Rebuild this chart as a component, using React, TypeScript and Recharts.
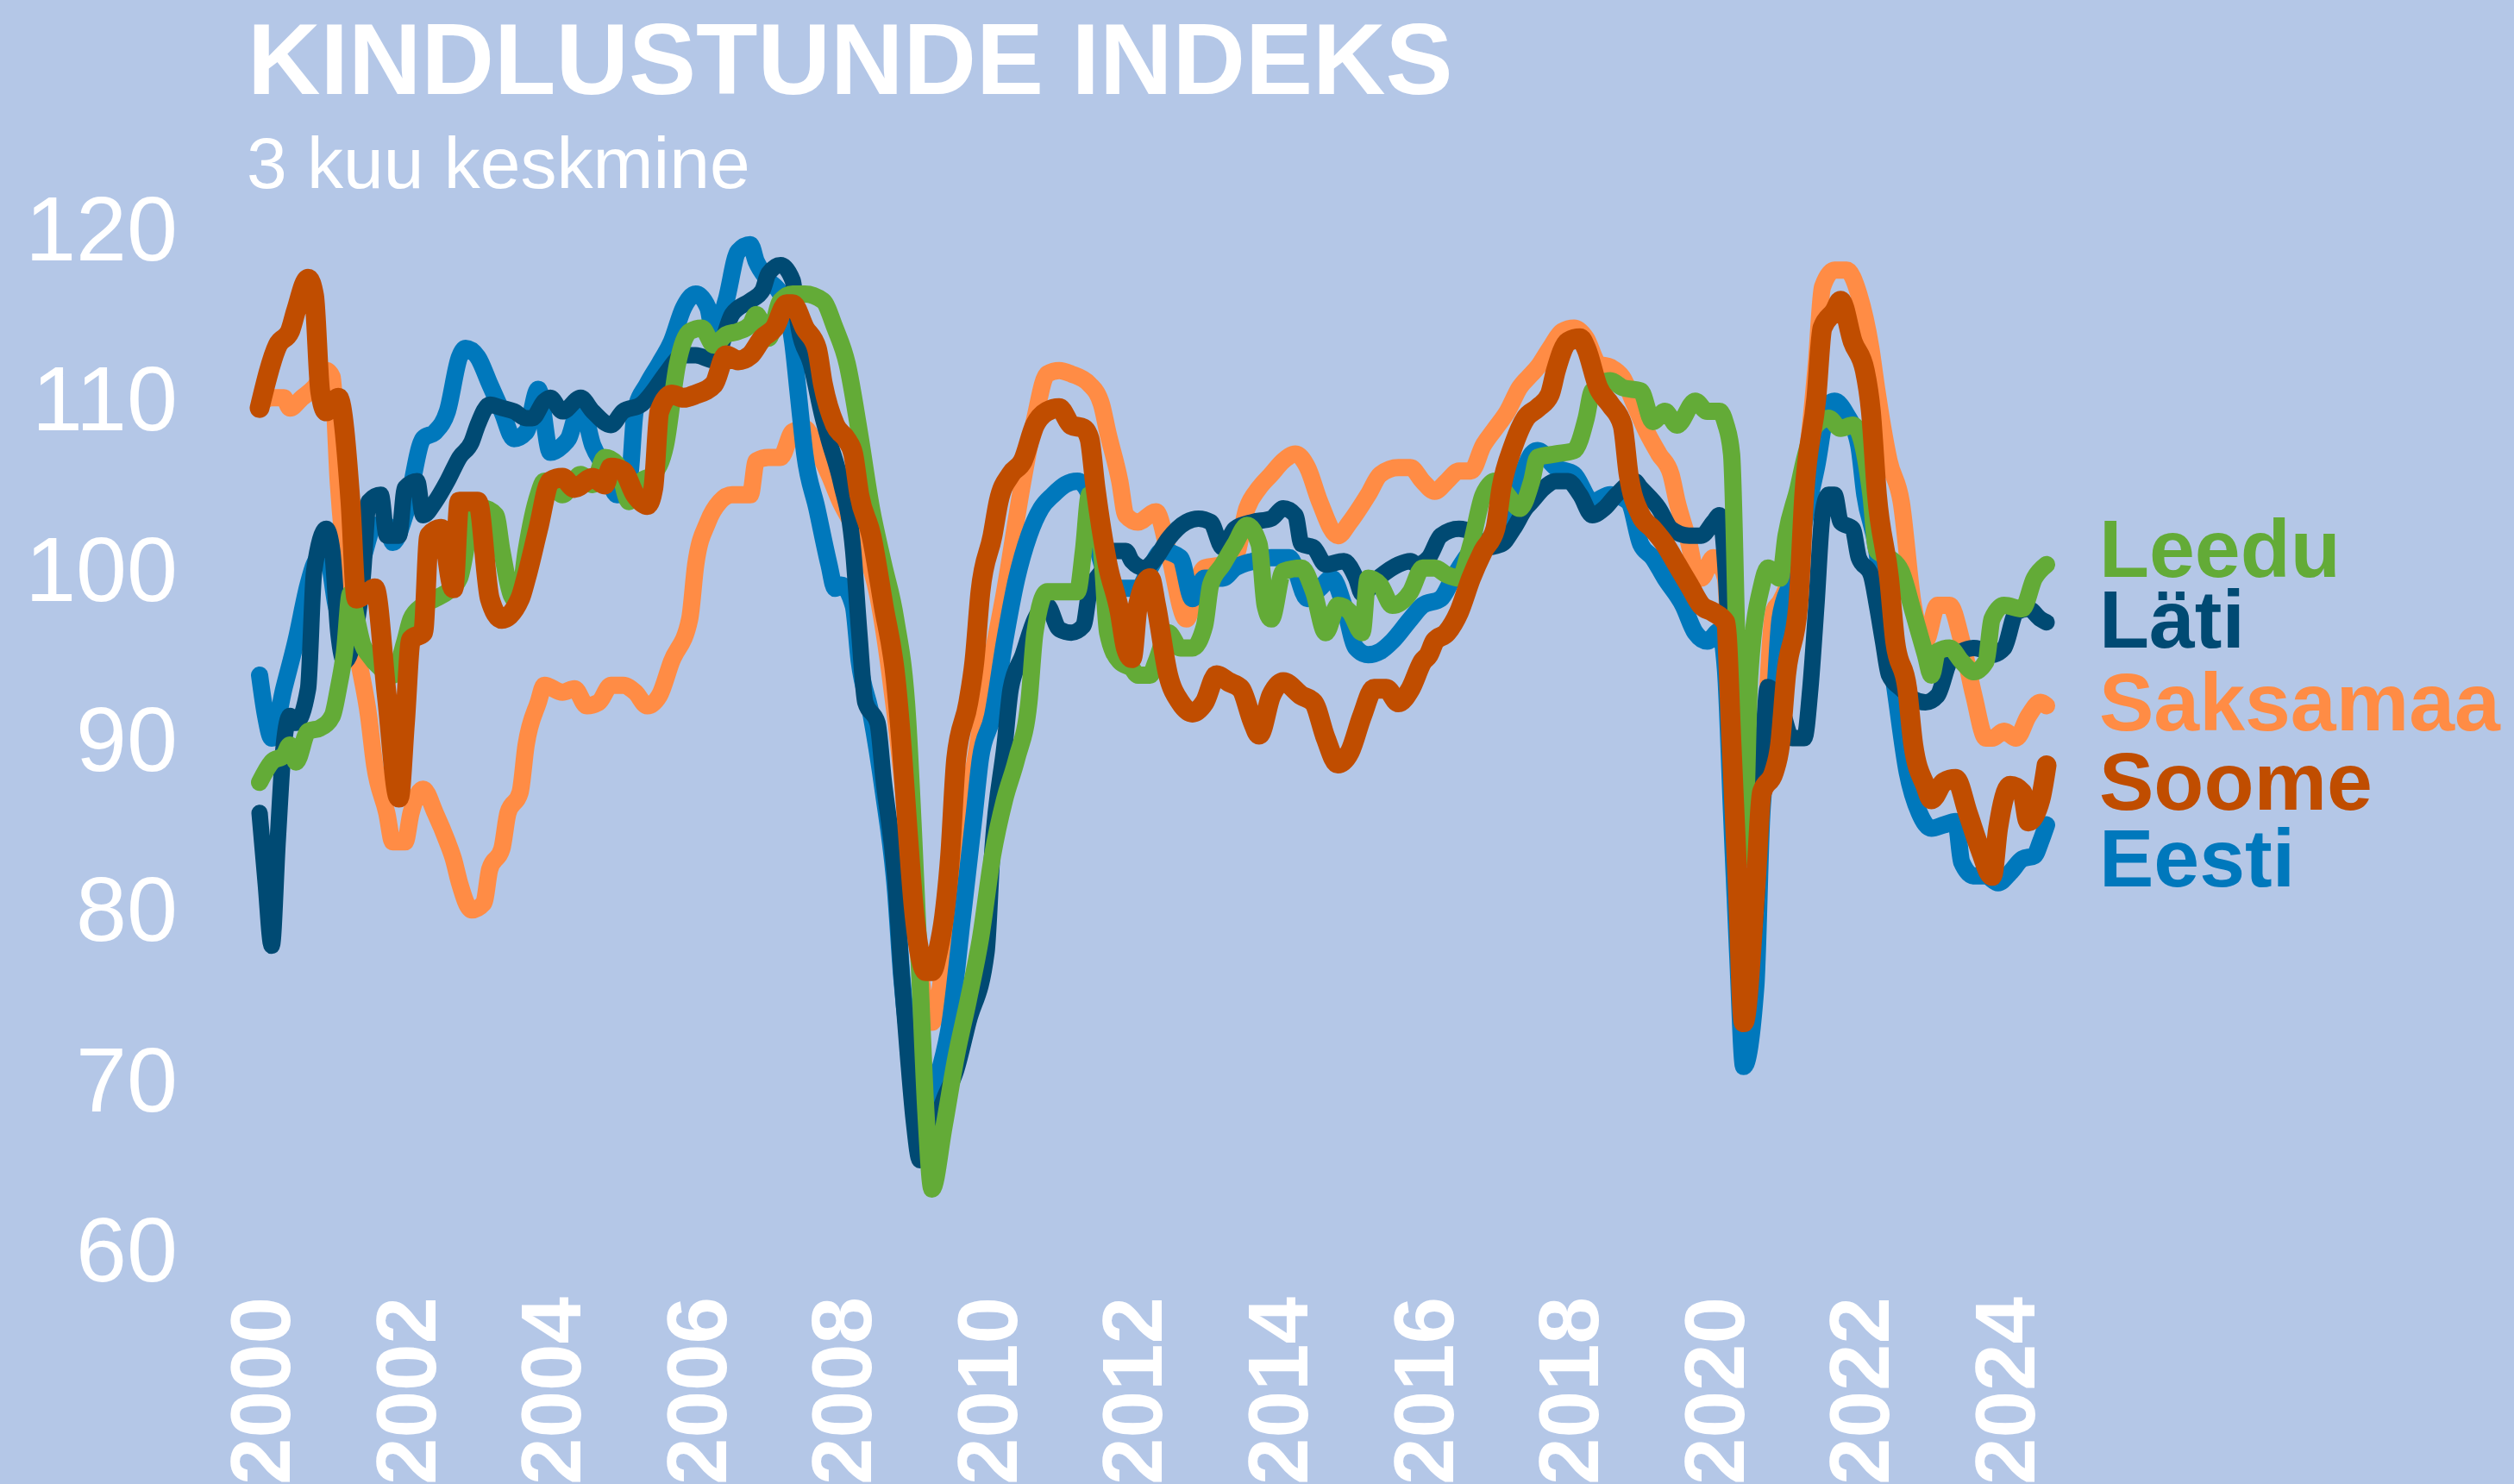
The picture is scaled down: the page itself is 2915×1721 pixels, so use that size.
import React from "react";
import { LineChart, Line, XAxis, YAxis } from "recharts";

// Months since Jan 2000 and index values (3-month average)
const soomeMonths = [0,3,5,6,8,9,10,11,13,15,16,18,19,21,23,24,25,27,28,30,32,33,36,38,40,43,44,46,48,50,52,55,57,58,60,62,64,65,66,68,70,72,75,77,79,81,83,85,87,88,90,92,93,95,97,98,99,101,103,105,106,107,108,109,110,111,112,113,114,115,117,118,119,121,122,124,126,128,130,132,134,136,137,138,140,142,143,144,145,147,148,150,152,154,156,158,160,162,164,165,167,169,172,174,176,178,180,182,184,186,188,190,192,193,194,196,198,200,202,204,205,207,209,211,213,214,216,218,219,221,223,225,226,228,230,232,234,236,238,240,242,243,244,245,247,248,250,251,252,254,255,257,258,260,261,263,265,266,267,269,270,272,273,275,276,278,280,282,284,286,287,289,291,292,294,295];
const soomeValues = [109.4,113.1,113.9,115.1,117,116,110.4,109.2,110,103.9,98.2,98.6,98.8,92.5,86.5,90.9,95.8,96.2,101.9,102.3,98.8,103.9,103.9,98.2,97,98.2,99.4,102.3,105.1,105.3,104.7,105.3,104.9,105.9,105.7,104.3,103.7,104.7,109.2,110.2,110,110.2,110.8,112.5,112.2,112.5,113.5,114.1,115.5,115.5,114.1,112.9,110.8,108.4,107.5,106.7,104.3,101.9,97.8,93.5,89.5,84.5,80,77.3,76.3,76.3,77.5,79.5,83.1,88.8,92.1,94.5,98.6,101.9,103.9,105.5,106.3,108.4,109.2,109.4,108.4,108.2,107.6,104.7,100.2,97.4,95.3,94.7,97.8,99.4,97.8,93.7,92.1,91.5,92.1,93.7,93.3,92.9,90.9,90.2,92.5,93.3,92.5,92.1,90,88.5,89.2,91.3,92.9,92.9,92.1,92.9,94.5,94.9,95.7,96.2,97.4,99.4,101,102.3,104.7,107.2,108.8,109.4,110.2,111.6,113.3,113.5,112.9,110.6,109.6,108.4,105.5,103.1,102.3,101.4,100.2,99,97.8,97.4,96.8,89.6,81.5,73.3,81.5,86.8,88,89.6,93.7,97.8,104.3,110,114.1,115.1,115.7,113.3,111.6,109.2,104.3,99.4,95.7,92.9,89.6,87.2,86.4,87.4,87.6,85.6,83.5,81.9,84.7,87.2,86.8,85.1,86.4,88.4];

const eestiMonths = [0,1,2,4,6,8,9,11,13,15,17,19,21,22,24,27,29,31,33,34,36,38,40,42,44,46,48,50,51,53,55,57,59,61,62,64,66,68,70,72,74,75,77,79,81,82,84,86,88,89,90,92,94,95,96,98,99,101,103,105,106,107,108,109,110,112,114,116,118,119,121,123,125,127,129,131,133,135,137,138,140,142,145,147,149,152,154,156,159,161,164,167,170,173,175,177,179,181,183,185,187,190,192,195,197,200,203,206,208,210,211,214,217,220,223,226,228,230,232,235,237,239,241,242,243,244,245,247,248,250,251,253,255,257,259,260,262,264,265,267,268,270,272,274,276,278,280,281,283,285,287,289,291,293,294,295];
const eestiValues = [93.7,91.3,90,92.9,95.7,99,100.2,101,97.5,98,100.5,102.5,102.5,101.5,103.1,107.6,108,109.2,112.4,112.9,112.4,110.8,109.2,107.6,108,110.5,106.8,107.2,107.6,109.6,107.2,105.9,104.3,105.1,109.2,110.8,112,113.3,115.3,116.1,115.3,113.7,115.7,118.6,119,118,116.9,116.1,113.3,110,106.7,103.5,100.2,98.8,99,97.8,94.5,91.3,86.8,81,76,72.5,70,68.4,67.5,70.1,73.3,79.4,85.6,88.8,91.3,95.7,99.4,101.9,103.5,104.3,104.9,105.1,104.3,101.9,99.4,98.8,98.8,100,101,100.6,98.2,99.4,99.4,100,100.4,100.6,100.6,98.2,98.8,99.4,97.8,95.3,94.9,95.1,95.7,97,97.8,98.2,99.4,101,101.7,103.5,105.1,106.7,106.9,105.9,105.5,103.9,104.3,103.9,101.4,100.6,99.4,97.8,96.2,95.7,96.3,94,85.6,77.4,70.7,75.4,85.6,91.7,97,99.4,102.7,105.9,109.6,109.8,109,107.2,104.3,101,97.8,92.9,88,85.6,84.7,84.9,85.1,82.7,81.9,81.9,81.5,82.1,82.9,83.1,83.9,84.9];

const latiMonths = [0,1,2,3,4,5,6,8,9,11,12,13,14,17,18,20,21,23,24,26,27,29,31,33,35,36,38,40,42,44,45,47,48,50,53,55,58,60,63,65,67,70,72,75,78,81,83,84,86,88,89,91,93,94,96,98,99,100,102,103,105,106,107,108,109,111,113,115,117,120,121,123,124,126,128,130,132,134,136,137,139,141,143,144,146,148,150,153,155,157,159,161,164,167,169,171,172,174,176,179,181,182,185,188,190,191,193,195,198,200,202,205,207,209,210,212,214,216,218,220,222,224,227,228,231,233,236,238,240,241,242,243,244,245,247,248,249,251,253,255,256,257,258,259,260,261,263,264,266,267,268,269,271,273,275,277,279,281,283,285,286,288,290,292,294,295];
const latiValues = [85.6,81.5,77.8,84,89.6,91.3,90.9,92.9,99.8,102.3,101,96.2,94.5,99.4,103.9,104.3,101.9,101.9,104.7,105.1,103.1,103.9,105.1,106.5,107.4,108.4,109.6,109.4,109.2,108.8,108.8,109.8,110,109.2,110,109.2,108.4,109.2,109.6,110.4,111.4,112.5,112.5,112.2,114.9,115.7,116.3,117.3,117.8,116.9,114.1,112,108.8,107.5,105,101,96.2,92.1,90.9,87.6,81.5,76,71.5,67.5,65.2,66.8,68.8,70.5,73.3,77.4,83.5,89.6,92.9,94.9,97,97.8,96.4,96.2,96.6,98.6,99.8,101,101,100.4,100,100.6,101.7,102.7,102.9,102.7,101.2,102.3,102.7,102.9,103.5,103.1,101.4,101.2,100.2,100.4,99.4,98.5,99.5,100.2,100.4,100.2,100.6,101.9,102.3,102.1,101.2,101.4,102.3,103.5,103.9,104.7,105.1,105.1,104.3,103.1,103.5,104.3,105.1,104.7,103.5,102.3,101.9,101.9,102.7,103.1,100,92,84,75,80,88,93,92,90,90,92.9,97.8,103.1,104.3,104.3,102.7,102.3,100.6,99.6,97.8,95.7,93.7,92.9,92.3,92.1,92.5,94.5,95.1,95.3,95.1,94.9,95.3,97.4,97.6,97,96.8];

const leeduMonths = [0,2,4,5,6,8,10,12,13,14,15,16,17,18,20,22,24,25,27,29,31,33,35,37,39,40,42,43,44,46,47,48,50,53,55,57,59,61,63,65,67,69,71,73,75,77,79,81,82,84,86,88,90,93,95,97,99,101,103,105,107,108,109,110,111,113,115,117,119,121,123,125,127,128,130,133,135,136,137,139,140,142,144,145,147,148,150,152,154,156,157,159,161,163,165,166,167,169,172,174,176,178,180,182,183,185,187,190,192,194,196,198,200,202,204,206,208,210,211,214,217,219,220,223,225,228,230,232,234,237,239,241,242,243,244,245,246,248,249,251,252,254,255,257,259,261,263,264,266,267,269,271,273,275,276,277,279,281,283,285,286,288,291,293,295];
const leeduValues = [87.4,88.6,89,89.6,88.6,90.4,90.6,91.3,92.9,95,98.5,97,95.5,94.9,94.1,93.7,95.7,97,97.8,98.2,98.6,99.4,102.7,103.5,103.1,101,98.2,98.6,101,104.3,105.1,105,104.3,105.5,104.9,106.5,106.1,103.9,105.1,105.5,107.2,112,113.9,114.1,113.1,113.7,113.9,114.3,114.9,113.5,115.7,116.1,116.1,115.7,114.1,112,108,103.5,100.2,97,91,84,76,68,63.5,67.2,71.3,74.6,78.2,83.1,86.4,88.8,92.1,96.2,98.6,98.6,98.6,101,104.3,101,96.2,94.5,94.1,93.7,93.7,94.5,96.2,95.3,95.3,96.6,99,100.2,101.4,102.5,101.4,97.8,97,99.8,100,98.6,96.2,97.8,97.4,96.2,99.4,99,97.8,98.6,100,100,99.6,99.4,101.4,104.3,105.1,104.3,103.5,105.1,106.5,106.7,106.9,108.8,110.4,111,110.6,110.4,108.6,109.2,108.4,109.8,109.2,109.2,108.5,106.7,93.7,83,93.7,99,100,99.4,101.9,104.7,106.3,108.4,108.8,108.2,108.4,108,104.3,101,100.6,99.8,97.4,94.9,93.7,95.1,95.3,94.5,93.9,94.5,97,97.8,97.6,99.4,100.2];

const saksamaaMonths = [0,2,4,5,7,9,11,12,13,15,16,18,19,21,22,24,25,27,29,31,32,33,35,37,38,40,41,43,44,46,47,50,52,54,56,58,60,62,64,66,68,71,72,74,76,78,81,82,84,86,88,90,92,94,96,98,100,102,104,106,108,110,111,112,114,116,118,120,123,126,128,130,132,134,137,139,140,142,143,145,148,150,153,155,156,159,161,163,165,167,169,171,173,175,178,180,183,185,188,190,192,194,196,198,200,202,204,206,208,210,211,213,215,217,219,221,223,225,227,229,231,233,234,236,237,238,240,241,242,243,244,245,247,248,250,251,253,255,257,258,260,262,264,266,267,269,271,273,275,277,279,281,283,285,286,288,290,292,294,295];
const saksamaaValues = [109.6,110,110,109.4,110,110.6,111.6,111.2,105,97.8,95.3,91.3,88.4,85.6,83.9,83.9,85.6,87,85.6,83.9,82.9,81.5,79.9,80.3,82.3,83.5,85.6,86.8,89.6,92.1,93.1,92.7,92.9,91.9,92.1,93.1,93.1,92.7,91.9,92.5,94.5,97,100.2,102.7,103.9,104.3,104.3,106.3,106.5,106.5,108,108.2,107,105.5,103.8,102.5,101,98.5,94,88,80,74,73.3,74.5,80,85,88.4,92.9,98.6,105.1,108.8,111.4,111.6,111.4,110.8,109.6,108,105.1,103.1,102.7,103.3,101,97,99.4,100,100.2,100.6,103.5,104.7,105.5,106.3,106.7,105.9,103.9,101.9,102.7,104.3,105.5,105.9,105.9,105.1,104.5,105.1,105.7,105.7,107.2,108.2,109.2,110.6,111.4,111.8,112.9,113.9,114.1,113.5,112,111.8,111.2,109.6,108,106.7,105.5,103.9,101.4,99.8,99.4,100.6,100.2,99.4,91,82,75,80,86,97.5,98,100,105,112,116.5,117.5,117.5,116.1,112.9,110.4,106.3,103.9,97.8,95.7,97.8,97.8,95.7,92.5,90,90,90.4,90,91.3,92.1,91.9];

const yearTicks = [0, 24, 48, 72, 96, 120, 144, 168, 192, 216, 240, 264, 288];
const yearLabels = ["2000","2002","2004","2006","2008","2010","2012","2014","2016","2018","2020","2022","2024"];
const valueTicks = [60, 70, 80, 90, 100, 110, 120];

const series = [
  { name: "Saksamaa", months: saksamaaMonths, values: saksamaaValues, color: "#FF8C45", width: 20 },
  { name: "Eesti", months: eestiMonths, values: eestiValues, color: "#0078BC", width: 20 },
  { name: "Läti", months: latiMonths, values: latiValues, color: "#004A73", width: 19 },
  { name: "Leedu", months: leeduMonths, values: leeduValues, color: "#63AB37", width: 20 },
  { name: "Soome", months: soomeMonths, values: soomeValues, color: "#C04D00", width: 23 },
];

const legendOrder = ["Leedu", "Läti", "Saksamaa", "Soome", "Eesti"];
const legendBaselines = [669, 751, 847, 939, 1028];

const toData = (months: number[], values: number[]) =>
  months.map((m, i) => ({ m, v: values[i] }));

const FONT = "'Liberation Sans', Arial, Helvetica, sans-serif";
const W = 2915;
const H = 1721;
const BG = "#B4C7E7";

const YTick = (props: any) => {
  const { y, payload } = props;
  return (
    <text x={206} y={y} dy="0.36em" textAnchor="end" fill="#FFFFFF" fontSize={106} fontFamily={FONT}>
      {payload.value}
    </text>
  );
};

const XTick = (props: any) => {
  const { x, payload } = props;
  const idx = yearTicks.indexOf(payload.value);
  const label = idx >= 0 ? yearLabels[idx] : String(payload.value);
  return (
    <g transform={`translate(${x + 35}, 1504)`}>
      <text transform="rotate(-90)" textAnchor="end" fill="#FFFFFF" fontSize={98} fontWeight="bold" fontFamily={FONT}>
        {label}
      </text>
    </g>
  );
};

export default function App() {
  const colorOf = (name: string) => series.find((s) => s.name === name)!.color;
  return (
    <div style={{ position: "absolute", left: 0, top: 0, width: W, height: H, background: BG, overflow: "hidden" }}>
      <LineChart width={W} height={H} margin={{ top: 264, right: 542, bottom: 0, left: 0 }}>
        <XAxis
          type="number"
          dataKey="m"
          domain={[0, 295]}
          ticks={yearTicks}
          interval={0}
          axisLine={false}
          tickLine={false}
          height={273}
          tick={<XTick />}
          allowDuplicatedCategory={false}
        />
        <YAxis
          type="number"
          domain={[60, 120]}
          ticks={valueTicks}
          interval={0}
          axisLine={false}
          tickLine={false}
          width={301}
          tick={<YTick />}
        />
        {series.map((s) => (
          <Line
            key={s.name}
            data={toData(s.months, s.values)}
            dataKey="v"
            name={s.name}
            type="monotone"
            stroke={s.color}
            strokeWidth={s.width}
            strokeLinecap="round"
            strokeLinejoin="round"
            dot={false}
            activeDot={false}
            isAnimationActive={false}
          />
        ))}
      </LineChart>
      <svg width={W} height={H} style={{ position: "absolute", left: 0, top: 0, pointerEvents: "none" }}>
        <text x={287} y={109} fontSize={117} fontWeight="bold" fill="#FFFFFF" fontFamily={FONT}>
          KINDLUSTUNDE INDEKS
        </text>
        <text x={286} y={218} fontSize={84} fill="#FFFFFF" fontFamily={FONT}>
          3 kuu keskmine
        </text>
        {legendOrder.map((name, i) => (
          <text key={name} x={2434} y={legendBaselines[i]} fontSize={95} fontWeight="bold" fill={colorOf(name)} fontFamily={FONT}>
            {name}
          </text>
        ))}
      </svg>
    </div>
  );
}
